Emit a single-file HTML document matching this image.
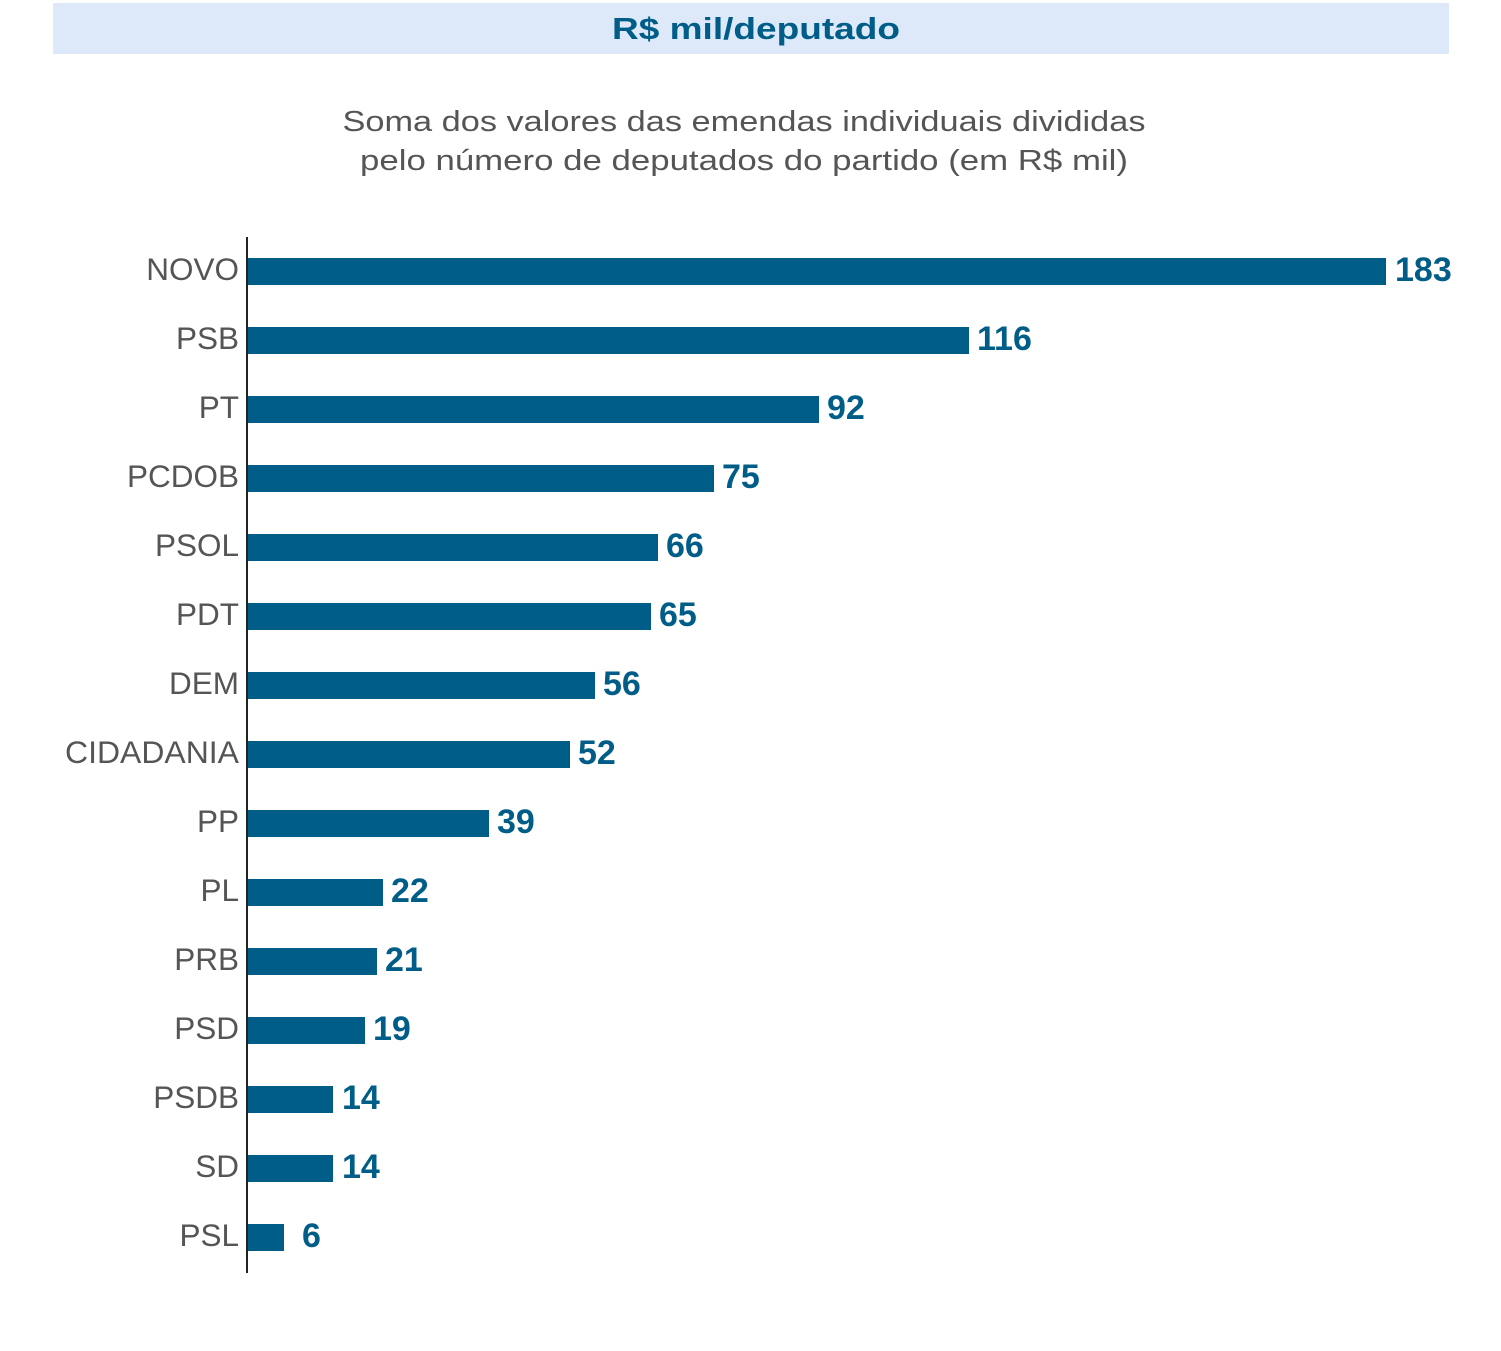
<!DOCTYPE html>
<html><head><meta charset="utf-8"><style>
html,body{margin:0;padding:0;background:#fff;}
svg{display:block;}
</style></head><body>
<svg width="1501" height="1351" xmlns="http://www.w3.org/2000/svg" font-family="Liberation Sans, sans-serif">
<rect x="53" y="3" width="1396" height="51" fill="#dde9f8"/>
<text x="756" y="39" text-anchor="middle" font-size="31" font-weight="bold" fill="#005d87" textLength="288" lengthAdjust="spacingAndGlyphs">R$ mil/deputado</text>
<text x="744" y="131" text-anchor="middle" font-size="29" fill="#555" textLength="803" lengthAdjust="spacingAndGlyphs">Soma dos valores das emendas individuais divididas</text>
<text x="744" y="170" text-anchor="middle" font-size="29" fill="#555" textLength="768" lengthAdjust="spacingAndGlyphs">pelo número de deputados do partido (em R$ mil)</text>
<line x1="247" y1="237" x2="247" y2="1273" stroke="#222" stroke-width="2"/>
<g fill="#005d87">
<rect x="248" y="258" width="1138" height="27"/>
<rect x="248" y="327" width="721" height="27"/>
<rect x="248" y="396" width="571" height="27"/>
<rect x="248" y="465" width="466" height="27"/>
<rect x="248" y="534" width="410" height="27"/>
<rect x="248" y="603" width="403" height="27"/>
<rect x="248" y="672" width="347" height="27"/>
<rect x="248" y="741" width="322" height="27"/>
<rect x="248" y="810" width="241" height="27"/>
<rect x="248" y="879" width="135" height="27"/>
<rect x="248" y="948" width="129" height="27"/>
<rect x="248" y="1017" width="117" height="27"/>
<rect x="248" y="1086" width="85" height="27"/>
<rect x="248" y="1155" width="85" height="27"/>
<rect x="248" y="1224" width="36" height="27"/>
</g>
<g font-size="31.5" fill="#555" text-anchor="end">
<text x="239" y="280">NOVO</text>
<text x="239" y="349">PSB</text>
<text x="239" y="418">PT</text>
<text x="239" y="487">PCDOB</text>
<text x="239" y="556">PSOL</text>
<text x="239" y="625">PDT</text>
<text x="239" y="694">DEM</text>
<text x="239" y="763" textLength="174" lengthAdjust="spacingAndGlyphs">CIDADANIA</text>
<text x="239" y="832">PP</text>
<text x="239" y="901">PL</text>
<text x="239" y="970">PRB</text>
<text x="239" y="1039">PSD</text>
<text x="239" y="1108">PSDB</text>
<text x="239" y="1177">SD</text>
<text x="239" y="1246">PSL</text>
</g>
<g font-size="34" font-weight="bold" fill="#005d87">
<text x="1395" y="281">183</text>
<text x="977" y="350">116</text>
<text x="827" y="419">92</text>
<text x="722" y="488">75</text>
<text x="666" y="557">66</text>
<text x="659" y="626">65</text>
<text x="603" y="695">56</text>
<text x="578" y="764">52</text>
<text x="497" y="833">39</text>
<text x="391" y="902">22</text>
<text x="385" y="971">21</text>
<text x="373" y="1040">19</text>
<text x="342" y="1109">14</text>
<text x="342" y="1178">14</text>
<text x="302" y="1247">6</text>
</g>
</svg>
</body></html>
